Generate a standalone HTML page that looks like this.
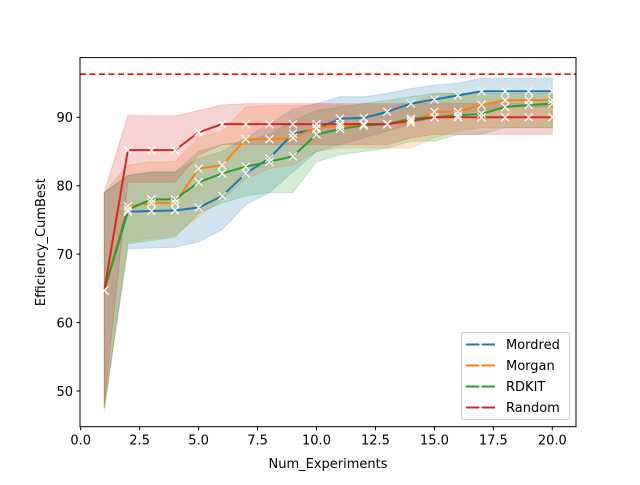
<!DOCTYPE html>
<html><head><meta charset="utf-8"><style>
body{margin:0;background:#fff}
svg{font-family:"DejaVu Sans","Liberation Sans",sans-serif}
</style></head><body>
<svg id="chart" width="640" height="480" xmlns="http://www.w3.org/2000/svg">
<rect width="640" height="480" fill="#fff"/>
<g id="bands"></g><g id="lines"></g><g id="axes"></g><g id="legend"></g>
</svg>
<script>
const xs=[1,2,3,4,5,6,7,8,9,10,11,12,13,14,15,16,17,18,19,20];
const mordredMean=[64.7,76.2,76.3,76.4,76.8,78.5,81.8,84,87.6,88.3,89.8,89.9,90.8,92,92.6,93.2,93.8,93.8,93.8,93.8];
const mordredLo=[47.5,70.8,70.9,71,71.8,73.6,77.2,79,82,85,86,87,88,89,90,90.5,91,91.5,91.5,91.5];
const mordredHi=[79,81.5,82,82,84,85,87,89,91.2,92,93,93,93.5,94.2,94.7,95,95.7,95.7,95.7,95.7];
const morganMean=[64.7,77,77.5,77.5,82.5,83,86.8,86.8,87,88.5,88.7,88.8,89,89.2,90.8,90.8,91.8,92.5,92.5,92.5];
const morganLo=[47,71.8,72.3,72.8,75.5,78,81,82.5,83,85,85.5,85.5,85.5,85.5,87,88,88.5,88.5,88.5,88.5];
const morganHi=[79,83,83.5,83.5,87,88,91.5,91.7,91.7,91.8,91.8,91.8,91.8,91.8,93.5,93.5,93.5,93.5,93.5,93.5];
const rdkitMean=[64.7,76.5,78,78,80.5,81.8,82.8,83.5,84.3,87.5,88.3,88.8,89,89.8,90,90.3,90.5,91.5,91.8,92];
const rdkitLo=[47.5,71.5,72,72.5,76,77.5,78.5,79,79,83.5,84.5,85,85.5,86.5,86.5,87.5,87.5,88.5,88.5,88.5];
const rdkitHi=[79,81.5,82,82,85,86,86.5,87.5,89.5,91,91.5,92,92.5,93,93.5,93.5,93.5,93.5,93.5,93.5];
const randomMean=[64.7,85.2,85.2,85.2,87.8,89,89,89,89,89,89,89,89,89.5,90,90,90,90,90,90];
const randomLo=[48,80.5,80.5,80.5,84.5,86,86,86,86,86,86,86,86,87,87.5,87.5,87.5,87.5,87.5,87.5];
const randomHi=[79,90.3,90.2,90.2,91,91.8,92,92,92,92,92,92,92,92,92,92,92,92,92,92];
const refLine=96.3;
const xTicks=[0,2.5,5,7.5,10,12.5,15,17.5,20];
const xTickLabels=["0.0","2.5","5.0","7.5","10.0","12.5","15.0","17.5","20.0"];
const yTicks=[50,60,70,80,90];
const seriesNames=["Mordred","Morgan","RDKIT","Random"];

const L=80,R=576,T=57.6,B=426.7;
const sx=v=>80.7+v*23.58;
const sy=v=>117.3-(v-90)*6.842;
const NS="http://www.w3.org/2000/svg";
function mk(tag,attrs,parent){const e=document.createElementNS(NS,tag);for(const k in attrs)e.setAttribute(k,attrs[k]);parent.appendChild(e);return e;}
const colors=["#1f77b4","#ff7f0e","#2ca02c","#d62728"];
const means=[mordredMean,morganMean,rdkitMean,randomMean];
const los=[mordredLo,morganLo,rdkitLo,randomLo];
const his=[mordredHi,morganHi,rdkitHi,randomHi];
const bands=document.getElementById('bands'),lines=document.getElementById('lines'),axes=document.getElementById('axes'),legend=document.getElementById('legend');
for(let s=0;s<4;s++){
  let d="M"+xs.map((x,i)=>sx(x)+","+sy(his[s][i])).join(" L");
  d+=" L"+xs.slice().reverse().map((x,j)=>{const i=xs.length-1-j;return sx(x)+","+sy(los[s][i]);}).join(" L")+"Z";
  const b=mk('path',{d:d,fill:colors[s],'fill-opacity':0.2,stroke:colors[s],'stroke-opacity':0.2},bands);
  
  
}
for(let s=0;s<4;s++){
  const p=mk('polyline',{points:xs.map((x,i)=>sx(x)+","+sy(means[s][i])).join(" "),fill:"none",stroke:colors[s],'stroke-width':2},lines);
  
  
}
for(let s=0;s<4;s++){
  xs.forEach((x,i)=>{
    const cx=sx(x),cy=sy(means[s][i]);
    const m=mk('path',{d:`M${cx-4},${cy-4}L${cx+4},${cy+4}M${cx-4},${cy+4}L${cx+4},${cy-4}`,stroke:"#fff",'stroke-width':1.2},lines);
    
    
  });
}
const rl=mk('line',{x1:L,x2:R,y1:sy(refLine),y2:sy(refLine),stroke:"red",'stroke-width':1.6,'stroke-dasharray':"6,3.5"},lines);


const frame=mk('rect',{x:L,y:T,width:R-L,height:B-T,fill:"none",stroke:"#000",'stroke-width':1},axes);


xTicks.forEach((v,i)=>{
  mk('line',{x1:sx(v),x2:sx(v),y1:B,y2:B+3.5,stroke:"#000"},axes);
  const t=mk('text',{x:sx(v),y:B+18,'font-size':13,'text-anchor':'middle',fill:"#000"},axes);
  t.textContent=xTickLabels[i];
  
  
});
yTicks.forEach(v=>{
  mk('line',{x1:L,x2:L-3.5,y1:sy(v),y2:sy(v),stroke:"#000"},axes);
  const t=mk('text',{x:L-7,y:sy(v)+4.8,'font-size':13,'text-anchor':'end',fill:"#000"},axes);
  t.textContent=String(v);
  
  
});
const xl=mk('text',{x:(L+R)/2,y:468,'font-size':13,'text-anchor':'middle'},axes);
xl.textContent="Num_Experiments";


const yl=mk('text',{x:0,y:0,'font-size':13,'text-anchor':'middle',transform:`translate(45,${(T+B)/2}) rotate(-90)`},axes);
yl.textContent="Efficiency_CumBest";


const lb=mk('rect',{x:461.5,y:332.5,width:108,height:87,rx:2,fill:"#fff",'fill-opacity':0.8,stroke:"#ccc"},legend);


seriesNames.forEach((n,i)=>{
  const y=344.5+i*21;
  const g=mk('g',{},legend);
  
  
  mk('line',{x1:466,x2:495,y1:y,y2:y,stroke:colors[i],'stroke-width':2},g);
  mk('path',{d:`M${478.5},${y-2}L${482.5},${y+2}M${478.5},${y+2}L${482.5},${y-2}`,stroke:"#fff",'stroke-width':1},g);
  const t=mk('text',{x:506,y:y+4.5,'font-size':13,fill:"#000"},g);
  t.textContent=n;
});
</script>
</body></html>
